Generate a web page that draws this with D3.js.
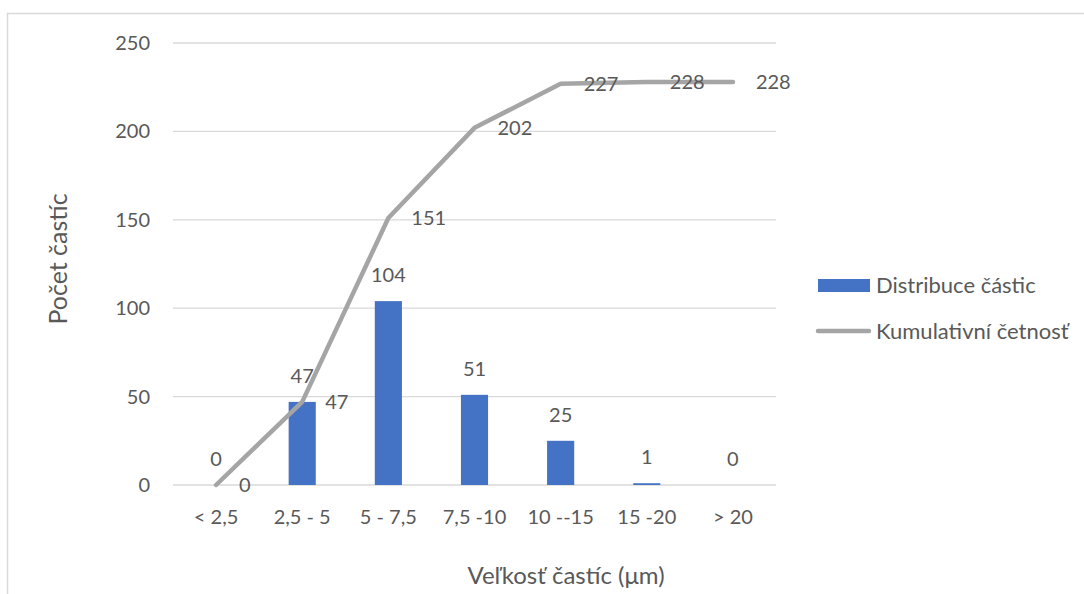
<!DOCTYPE html>
<html>
<head>
<meta charset="utf-8">
<script src="https://cdn.jsdelivr.net/npm/d3@7"></script>
<style>
    html, body { margin: 0; padding: 0; background: #fff; }
    svg text { font-family: Lato, "Open Sans", sans-serif; fill: #595959; }
</style>
</head>
<body>
<div id="chart"></div>
<script>
// data
const categories = ['< 2,5', '2,5 - 5', '5 - 7,5', '7,5 -10', '10 --15', '15 -20', '> 20'];
const distribution = [0, 47, 104, 51, 25, 1, 0];
const cumulative = [0, 47, 151, 202, 227, 228, 228];
const yTicks = [0, 50, 100, 150, 200, 250];
const seriesNames = ['Distribuce částic', 'Kumulativní četnosť'];

const width = 1084, height = 594;
const margin = { left: 173, right: 308, top: 43, bottom: 109 };

const svg = d3.select('#chart').append('svg')
    .attr('width', width)
    .attr('height', height);

// outer chart border
svg.append('rect')
    .attr('x', 7.5).attr('y', 13.5)
    .attr('width', width).attr('height', height)
    .attr('fill', 'none')
    .attr('stroke', '#d9d9d9')
    .attr('stroke-width', 1.5);

const x = d3.scaleBand()
    .domain(categories)
    .range([margin.left, width - margin.right]);

const y = d3.scaleLinear()
    .domain([0, 250])
    .range([height - margin.bottom, margin.top]);

// gridlines
svg.append('g')
    .selectAll('line')
    .data(yTicks)
    .join('line')
    .attr('x1', margin.left).attr('x2', width - margin.right)
    .attr('y1', d => y(d)).attr('y2', d => y(d))
    .attr('stroke', '#d9d9d9')
    .attr('stroke-width', 1.3);

// y tick labels
svg.append('g')
    .selectAll('text')
    .data(yTicks)
    .join('text')
    .attr('x', 150)
    .attr('y', d => y(d))
    .attr('dy', '0.35em')
    .attr('text-anchor', 'end')
    .style('font-size', '20px')
    .text(d => d);

// x tick labels
svg.append('g')
    .selectAll('text')
    .data(categories)
    .join('text')
    .attr('x', d => x(d) + x.bandwidth() / 2)
    .attr('y', 517)
    .attr('dy', '0.35em')
    .attr('text-anchor', 'middle')
    .style('font-size', '20px')
    .text(d => d);

// bars
const barW = x.bandwidth() * 0.315;
svg.append('g')
    .selectAll('rect')
    .data(distribution)
    .join('rect')
    .attr('x', (d, i) => x(categories[i]) + x.bandwidth() / 2 - barW / 2)
    .attr('y', d => y(d))
    .attr('width', barW)
    .attr('height', d => y(0) - y(d))
    .attr('fill', '#4472c4');

// bar labels
svg.append('g')
    .selectAll('text')
    .data(distribution)
    .join('text')
    .attr('x', (d, i) => x(categories[i]) + x.bandwidth() / 2)
    .attr('y', d => y(d) - 26)
    .attr('dy', '0.35em')
    .attr('text-anchor', 'middle')
    .style('font-size', '20px')
    .text(d => d);

// cumulative line
const line = d3.line()
    .x((d, i) => x(categories[i]) + x.bandwidth() / 2)
    .y(d => y(d));

svg.append('path')
    .datum(cumulative)
    .attr('d', line)
    .attr('fill', 'none')
    .attr('stroke', '#a5a5a5')
    .attr('stroke-width', 4.5)
    .attr('stroke-linejoin', 'round')
    .attr('stroke-linecap', 'round');

// line labels, to the right of the points
svg.append('g')
    .selectAll('text')
    .data(cumulative)
    .join('text')
    .attr('x', (d, i) => x(categories[i]) + x.bandwidth() / 2 + 23)
    .attr('y', d => y(d))
    .attr('dy', '0.35em')
    .style('font-size', '20px')
    .text(d => d);

// axis titles
svg.append('text')
    .attr('x', 566)
    .attr('y', 576)
    .attr('dy', '0.35em')
    .attr('text-anchor', 'middle')
    .style('font-size', '24px')
    .text('Veľkosť častíc (μm)');

svg.append('text')
    .attr('transform', 'translate(58,259) rotate(-90)')
    .attr('dy', '0.35em')
    .attr('text-anchor', 'middle')
    .style('font-size', '25px')
    .text('Počet častíc');

// legend
const legend = svg.append('g');
legend.append('rect')
    .attr('x', 818).attr('y', 279)
    .attr('width', 52).attr('height', 13)
    .attr('fill', '#4472c4');
legend.append('line')
    .attr('x1', 818).attr('x2', 869)
    .attr('y1', 331).attr('y2', 331)
    .attr('stroke', '#a5a5a5')
    .attr('stroke-width', 4.5)
    .attr('stroke-linecap', 'round');
legend.selectAll('text')
    .data(seriesNames)
    .join('text')
    .attr('x', 876)
    .attr('y', (d, i) => 285 + i * 46)
    .attr('dy', '0.35em')
    .style('font-size', '22px')
    .text(d => d);
</script>
</body>
</html>
